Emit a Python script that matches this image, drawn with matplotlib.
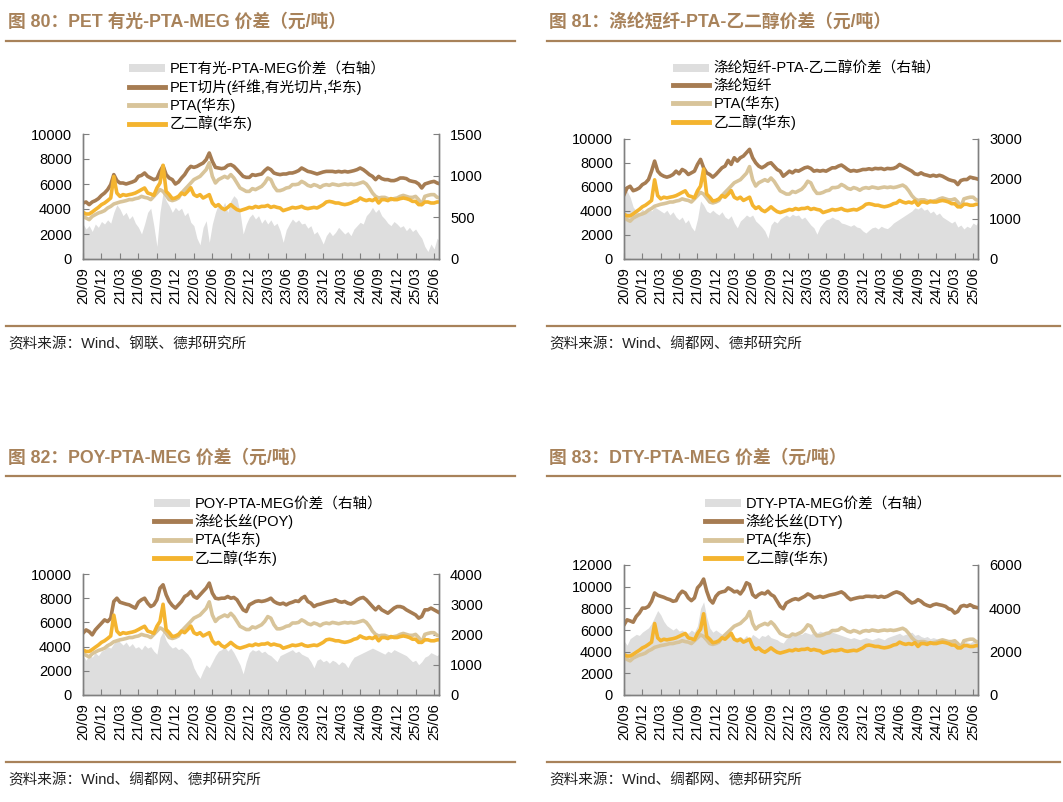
import numpy as np
import matplotlib.pyplot as plt
from matplotlib.lines import Line2D
from matplotlib.patches import Patch

plt.rcParams['font.family'] = ['Liberation Sans', 'Noto Sans CJK SC']
plt.rcParams['axes.unicode_minus'] = False

# half-month steps since 2020/09
months = np.arange(0, 58.01, 0.5)
tick_labels = ['20/09', '20/12', '21/03', '21/06', '21/09', '21/12', '22/03',
               '22/06', '22/09', '22/12', '23/03', '23/06', '23/09', '23/12',
               '24/03', '24/06', '24/09', '24/12', '25/03', '25/06']

pta = [3410, 3280, 3150, 3410, 3550, 3680, 3760, 3870, 4080, 4210, 4400, 4480,
       4560, 4610, 4670, 4750, 4750, 4830, 4880, 5010, 4930, 4880, 4750, 5010,
       5280, 5550, 5410, 5090, 4750, 4670, 4750, 4880, 5280, 5550, 5810, 6080,
       6350, 6480, 6610, 6880, 7150, 7700, 6610, 6080, 6350, 6480, 6610, 6480,
       6750, 6480, 6080, 5680, 5550, 5410, 5410, 5630, 5550, 5680, 5810, 6080,
       6480, 6350, 5810, 5470, 5470, 5550, 5680, 5730, 5950, 5950, 6000, 6210,
       6080, 5890, 5810, 5950, 5870, 5730, 5890, 5950, 5890, 6000, 5950, 5890,
       5950, 6000, 5950, 6000, 5950, 6000, 6080, 6160, 6000, 5680, 5280, 5010,
       4880, 4930, 4930, 4830, 4750, 4830, 4880, 5010, 5090, 5010, 4930, 4930,
       5010, 4750, 4350, 5010, 5090, 5150, 5150, 4930, 4880]

meg = [3730, 3600, 3600, 3760, 3950, 4130, 4350, 4480, 4670, 4880, 6600, 5280,
       5010, 5150, 5090, 5150, 5200, 5280, 5410, 5550, 5680, 5280, 5200, 5100,
       5680, 6080, 7500, 5410, 5150, 4830, 4880, 5010, 5280, 5150, 5410, 5700,
       5150, 5010, 5150, 4880, 5010, 5150, 4480, 4210, 4350, 4080, 3950, 4130,
       4350, 4130, 3950, 3870, 3950, 4030, 4130, 4080, 4210, 4130, 4210, 4210,
       4290, 4130, 4210, 4130, 4080, 3870, 3950, 4030, 4130, 4080, 4130, 4210,
       4080, 4030, 4080, 4130, 4080, 4210, 4350, 4560, 4610, 4560, 4480, 4480,
       4400, 4350, 4400, 4480, 4610, 4670, 4880, 4750, 4670, 4750, 4670, 4830,
       4480, 4750, 4750, 4670, 4830, 4750, 4750, 4830, 4880, 4830, 4750, 4610,
       4610, 4350, 4350, 4560, 4560, 4480, 4480, 4560, 4560]

pet = [4480, 4560, 4350, 4560, 4670, 4830, 5090, 5280, 5550, 5950, 6750, 6270,
       6080, 6080, 6000, 6080, 6160, 6270, 6610, 6690, 6880, 6610, 6480, 6350,
       6430, 7010, 7450, 6750, 6480, 6350, 6000, 6160, 6480, 6750, 7150, 7410,
       7330, 7410, 7550, 7680, 7950, 8480, 7810, 7330, 7280, 7230, 7280, 7490,
       7550, 7410, 7150, 6880, 6610, 6530, 6530, 6750, 6690, 6750, 6800, 7070,
       7280, 7150, 6880, 6800, 6750, 6800, 6800, 6880, 6880, 6960, 7070, 7280,
       7150, 7010, 6960, 6880, 6800, 6880, 6960, 7010, 7010, 7010, 6960, 7010,
       6960, 7010, 6960, 7010, 7070, 7150, 7280, 7150, 6960, 6750, 6610, 6350,
       6610, 6430, 6350, 6350, 6270, 6270, 6350, 6480, 6480, 6430, 6270, 6210,
       6160, 6000, 5680, 6000, 6080, 6160, 6210, 6080, 6000]

pet_spread = [420, 360, 400, 330, 420, 380, 450, 420, 470, 430, 560, 650,
              600, 520, 560, 480, 520, 430, 380, 300, 420, 560, 610, 400,
              150, 560, 800, 700, 640, 560, 620, 580, 610, 520, 560, 440,
              400, 250, 170, 380, 460, 200, 420, 560, 660, 600, 680, 560,
              700, 760, 720, 560, 300, 420, 500, 540, 480, 520, 430, 480,
              420, 470, 400, 430, 340, 200, 350, 420, 480, 440, 470, 420,
              430, 370, 400, 300, 330, 260, 180, 280, 330, 280, 320, 380,
              340, 300, 330, 280, 360, 400, 440, 420, 520, 560, 620, 560,
              600, 520, 480, 430, 400, 450, 420, 380, 400, 340, 380, 330,
              360, 300, 250, 150, 90, 180, 120, 250, 200]

psf = [5360, 5920, 6060, 5690, 5780, 5920, 6200, 6340, 6620, 7320, 8160, 7320,
       7040, 6900, 6820, 6900, 7040, 7320, 7100, 7460, 7320, 7040, 7180, 7320,
       7880, 8300, 7600, 7180, 7040, 6820, 7040, 7320, 7600, 7740, 8220, 7880,
       8440, 8160, 8440, 8580, 8860, 9140, 8440, 8020, 7740, 7600, 7740, 7940,
       8020, 7740, 7460, 7320, 6900, 7100, 7320, 7180, 7380, 7320, 7460, 7600,
       7660, 7550, 7320, 7380, 7320, 7380, 7320, 7460, 7600, 7600, 7740, 7830,
       7660, 7460, 7320, 7380, 7320, 7380, 7460, 7460, 7520, 7460, 7550, 7520,
       7550, 7460, 7550, 7520, 7550, 7660, 7880, 7740, 7600, 7460, 7320, 7100,
       7040, 7180, 7040, 6980, 6900, 6980, 6900, 6980, 6900, 6760, 6620, 6540,
       6480, 6200, 6540, 6620, 6620, 6820, 6760, 6700, 6620]

psf_spread = [1600, 1700, 1550, 1300, 1200, 1150, 1250, 1150, 1280, 1200, 1300, 1250,
              1200, 1150, 1220, 1100, 1180, 1050, 980, 1050, 900, 980, 800, 700,
              1000, 1450, 1350, 1200, 1150, 1220, 1150, 1100, 1180, 1050, 1000, 1080,
              900, 780, 950, 1020, 1100, 1050, 1100, 950, 880, 800, 700, 520,
              850, 950, 900, 1000, 1050, 1100, 1050, 1120, 1080, 1100, 1000, 1050,
              950, 850, 780, 620, 800, 900, 980, 1000, 1050, 1000, 980, 900,
              880, 850, 820, 860, 800, 780, 700, 650, 720, 780, 800, 750,
              820, 780, 760, 820, 900, 950, 1000, 1050, 1100, 1150, 1200, 1280,
              1250, 1300, 1220, 1250, 1150, 1200, 1100, 1150, 1050, 1000, 950, 900,
              950, 800, 850, 750, 820, 780, 900, 850, 1000]

poy = [5110, 5380, 5240, 4970, 5380, 5660, 5930, 6210, 6070, 6350, 7730, 8000,
       7670, 7590, 7510, 7450, 7310, 7180, 7670, 7870, 8000, 7590, 7310, 7450,
       7870, 8830, 9110, 8280, 7730, 7400, 7180, 7450, 7730, 8140, 8280, 8560,
       8140, 8000, 8280, 8560, 8830, 9250, 8420, 8000, 7950, 8000, 8000, 8140,
       8000, 8060, 7870, 7450, 7040, 6900, 7450, 7590, 7730, 7780, 7730, 7780,
       7870, 8000, 7730, 7590, 7510, 7590, 7450, 7590, 7670, 7780, 7730, 8000,
       8140, 7730, 7590, 7310, 7450, 7510, 7590, 7670, 7730, 7780, 7870, 7730,
       7670, 7730, 7590, 7510, 7670, 7870, 8000, 8060, 7870, 7590, 7310, 7040,
       7310, 7040, 6900, 6760, 6960, 7180, 7310, 7310, 7230, 7040, 6900, 6760,
       6620, 6350, 6490, 7040, 7040, 7180, 7040, 6900, 6760]

poy_spread = [1300, 1150, 1350, 1250, 1400, 1300, 1450, 1500, 1600, 1550, 1700, 1850,
              1750, 1650, 1750, 1600, 1700, 1550, 1600, 1500, 1650, 1550, 1600, 1450,
              1350, 1900, 2100, 1800, 1650, 1550, 1600, 1500, 1550, 1450, 1350, 1200,
              900, 700, 550, 800, 1000, 900, 1100, 1300, 1450, 1500, 1600, 1450,
              1550, 1400, 1200, 1000, 700, 1100, 1400, 1500, 1450, 1500, 1400, 1450,
              1350, 1300, 1200, 1100, 1300, 1350, 1400, 1450, 1500, 1400, 1450, 1350,
              1300, 1250, 1100, 900, 1150, 1200, 1100, 1150, 1050, 1150, 1100, 1000,
              1100, 1050, 900, 1100, 1250, 1300, 1350, 1400, 1450, 1500, 1550, 1500,
              1450, 1400, 1350, 1450, 1400, 1500, 1450, 1400, 1350, 1300, 1200, 1100,
              1150, 1000, 1100, 1250, 1300, 1400, 1350, 1300, 1400]

dty = [6470, 6940, 6840, 6720, 7250, 7560, 8020, 8020, 8180, 8650, 9420, 9210,
       9110, 9020, 8890, 8800, 8650, 8710, 9270, 9580, 9420, 8960, 8710, 8960,
       9890, 10200, 10700, 9600, 8800, 8490, 9110, 9420, 9520, 9580, 9890, 9730,
       9520, 9580, 9330, 9730, 10360, 10200, 9270, 9020, 9270, 9420, 9330, 9580,
       9270, 9110, 8650, 8180, 7960, 8490, 8650, 8800, 8890, 8800, 8960, 9110,
       9330, 9210, 8960, 9020, 9110, 9020, 9110, 9210, 9270, 9330, 9420, 9520,
       9330, 9020, 8800, 8890, 8960, 9020, 9020, 9110, 9110, 9080, 9110, 9020,
       9110, 9020, 9110, 9270, 9420, 9520, 9420, 9270, 8960, 8710, 8490, 8580,
       8800, 8650, 8400, 8270, 8180, 8330, 8400, 8330, 8270, 8180, 7960, 7870,
       7560, 7710, 8180, 8270, 8180, 8330, 8180, 8090, 8020]

dty_spread = [2500, 2300, 2600, 2700, 2800, 2750, 2900, 3000, 3100, 3300, 3600, 3900,
              3700, 3400, 3200, 3100, 3000, 3100, 2950, 3000, 2900, 2850, 3000, 2900,
              3200, 4000, 4300, 3600, 3100, 2900, 3000, 2900, 2800, 2750, 2850, 2700,
              2600, 2650, 2700, 2600, 2750, 2550, 2800, 2700, 2600, 2750, 2700, 2800,
              2650, 2600, 2550, 2450, 2400, 2600, 2700, 2800, 2750, 2850, 2800, 2900,
              2850, 2800, 2900, 2850, 2950, 2900, 2850, 2950, 2900, 2850, 2800, 2750,
              2700, 2650, 2600, 2650, 2600, 2550, 2600, 2650, 2600, 2550, 2600, 2650,
              2600, 2550, 2650, 2700, 2750, 2800, 2850, 2750, 2800, 2850, 2900, 2750,
              2800, 2700, 2650, 2700, 2600, 2650, 2600, 2550, 2500, 2550, 2450, 2500,
              2400, 2350, 2450, 2500, 2450, 2400, 2500, 2450, 2400]

BROWN = '#A8825A'
C_PROD = '#A67C52'
C_PTA = '#D8C49A'
C_MEG = '#F4B42F'
C_GREY = '#DEDEDE'
C_SPINE = '#808080'

W, H = 1063, 802
fig = plt.figure(figsize=(W / 100, H / 100), dpi=100)


def fx(px):
    return px / W


def fy(py):
    return 1 - py / H


panels = [
    dict(title='图 80：PET 有光-PTA-MEG 价差（元/吨）', x0=6, x1=515, ty=22, rule1=41, rule2=326, sy=344,
         box=(83, 439, 134, 259), leg=(129, 62), prod=pet, spread=pet_spread,
         ylim=10000, ystep=2000, y2lim=1500, y2step=500,
         labels=['PET有光-PTA-MEG价差（右轴）', 'PET切片(纤维,有光切片,华东)', 'PTA(华东)', '乙二醇(华东)'],
         source='资料来源：Wind、钢联、德邦研究所'),
    dict(title='图 81：涤纶短纤-PTA-乙二醇价差（元/吨）', x0=547, x1=1060, ty=22, rule1=41, rule2=326, sy=344,
         box=(624, 978, 139, 259), leg=(673, 62), prod=psf, spread=psf_spread,
         ylim=10000, ystep=2000, y2lim=3000, y2step=1000,
         labels=['涤纶短纤-PTA-乙二醇价差（右轴）', '涤纶短纤', 'PTA(华东)', '乙二醇(华东)'],
         source='资料来源：Wind、绸都网、德邦研究所'),
    dict(title='图 82：POY-PTA-MEG 价差（元/吨）', x0=6, x1=515, ty=458, rule1=476, rule2=762, sy=780,
         box=(83, 439, 574, 695), leg=(154, 497), prod=poy, spread=poy_spread,
         ylim=10000, ystep=2000, y2lim=4000, y2step=1000,
         labels=['POY-PTA-MEG价差（右轴）', '涤纶长丝(POY)', 'PTA(华东)', '乙二醇(华东)'],
         source='资料来源：Wind、绸都网、德邦研究所'),
    dict(title='图 83：DTY-PTA-MEG 价差（元/吨）', x0=547, x1=1060, ty=458, rule1=476, rule2=762, sy=780,
         box=(624, 978, 565, 695), leg=(705, 497), prod=dty, spread=dty_spread,
         ylim=12000, ystep=2000, y2lim=6000, y2step=2000,
         labels=['DTY-PTA-MEG价差（右轴）', '涤纶长丝(DTY)', 'PTA(华东)', '乙二醇(华东)'],
         source='资料来源：Wind、绸都网、德邦研究所'),
]

for p in panels:
    # title and rules
    fig.text(fx(p['x0'] + 2), fy(p['ty']), p['title'], fontsize=12.8, fontweight='bold',
             color=BROWN, va='center', ha='left')
    for ry in (p['rule1'], p['rule2']):
        fig.add_artist(Line2D([fx(p['x0']), fx(p['x1'])], [fy(ry), fy(ry)],
                              transform=fig.transFigure, color=BROWN, lw=1.6))
    fig.text(fx(p['x0'] + 2), fy(p['sy']), p['source'], fontsize=10.5, color='#222222',
             va='center', ha='left')

    l, r, t, b = p['box']
    ax = fig.add_axes([fx(l), fy(b), (r - l) / W, (b - t) / H])
    ax2 = ax.twinx()
    ax.set_zorder(ax2.get_zorder() + 1)
    ax.patch.set_visible(False)

    ax2.fill_between(months, 0, p['spread'], color=C_GREY, lw=0)
    ax.plot(months, p['prod'], color=C_PROD, lw=2.6, solid_joinstyle='round')
    ax.plot(months, pta, color=C_PTA, lw=2.6, solid_joinstyle='round')
    ax.plot(months, meg, color=C_MEG, lw=2.6, solid_joinstyle='round')

    ax.set_xlim(0, 57.8)
    ax.set_ylim(0, p['ylim'])
    ax2.set_ylim(0, p['y2lim'])
    ax.set_yticks(np.arange(0, p['ylim'] + 1, p['ystep']))
    ax2.set_yticks(np.arange(0, p['y2lim'] + 1, p['y2step']))
    ax.set_xticks(np.arange(0, 58, 3))
    ax.set_xticklabels(tick_labels, rotation=90)

    for a in (ax, ax2):
        a.spines['top'].set_visible(False)
        for s in ('left', 'right', 'bottom'):
            a.spines[s].set_color(C_SPINE)
            a.spines[s].set_linewidth(1.0)
        a.tick_params(direction='in', length=4, color=C_SPINE, labelsize=10.5,
                      pad=8, labelcolor='black')
    ax.tick_params(axis='x', pad=6)

    handles = [Patch(facecolor=C_GREY, edgecolor='none'),
               Line2D([], [], color=C_PROD, lw=3.5),
               Line2D([], [], color=C_PTA, lw=3.5),
               Line2D([], [], color=C_MEG, lw=3.5)]
    fig.legend(handles, p['labels'], loc='upper left',
               bbox_to_anchor=(fx(p['leg'][0]), fy(p['leg'][1])),
               frameon=False, fontsize=10.5, handlelength=2.5, handleheight=0.5,
               handletextpad=0.3, labelspacing=0.2, borderpad=0, borderaxespad=0)

fig.savefig('out.png', dpi=100)
